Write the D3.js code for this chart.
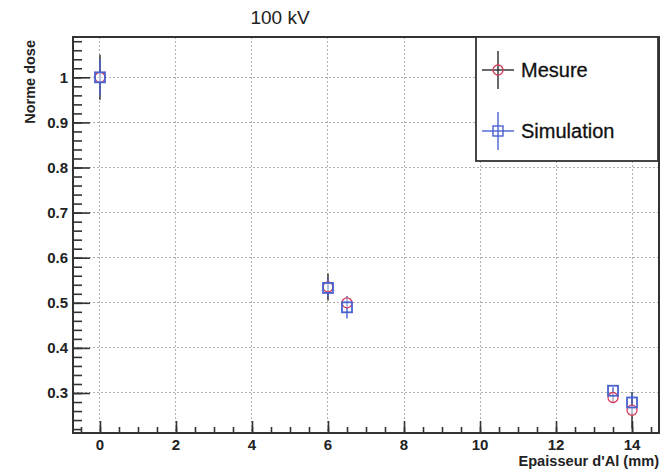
<!DOCTYPE html>
<html>
<head>
<meta charset="utf-8">
<script src="https://cdn.jsdelivr.net/npm/d3@7"></script>
<style>
  html, body { margin: 0; padding: 0; background: #fff; }
  svg { display: block; font-family: "Liberation Sans", Arial, Helvetica, sans-serif; }
</style>
</head>
<body>
<svg id="chart" width="666" height="473"></svg>
<script>
// Aluminium thickness (mm) for each measurement
const thickness = [0, 6, 6.5, 13.5, 14];
// Normalised dose, measured
const mesure = [1.0, 0.535, 0.50, 0.29, 0.262];
const mesureErr = [0.05, 0.03, 0.012, 0.012, 0.04];
// Normalised dose, simulated
const simulation = [1.0, 0.533, 0.49, 0.305, 0.279];
const simulationErr = [0.04, 0.02, 0.025, 0.008, 0.02];

const xTicks = [0, 2, 4, 6, 8, 10, 12, 14];
const yTicks = [0.3, 0.4, 0.5, 0.6, 0.7, 0.8, 0.9, 1];
const seriesNames = ["Mesure", "Simulation"];

const svg = d3.select("#chart");
const frame = { left: 73, right: 659, top: 37, bottom: 433 };

const x = d3.scaleLinear().domain([-0.71, 14.71]).range([frame.left, frame.right]);
const y = d3.scaleLinear().domain([0.2113, 1.0894]).range([frame.bottom, frame.top]);

const colMesure = "#d8395a", colMesureBar = "#2a2a2a";
const colSim = "#4a62d0";

// Grid
const grid = svg.append("g").attr("stroke", "#b0b0b0").attr("stroke-width", 1)
  .attr("stroke-dasharray", "2,2").attr("shape-rendering", "crispEdges");
grid.selectAll("line.gx").data(xTicks).join("line").attr("class", "gx")
  .attr("x1", d => x(d)).attr("x2", d => x(d)).attr("y1", frame.top).attr("y2", frame.bottom);
grid.selectAll("line.gy").data(yTicks).join("line").attr("class", "gy")
  .attr("y1", d => y(d)).attr("y2", d => y(d)).attr("x1", frame.left).attr("x2", frame.right);

// Axes with inner ticks
const yMinor = d3.range(0.22, 1.09, 0.02).map(v => +v.toFixed(2));
const xMinor = d3.range(-0.5, 14.71, 0.5);

const yAxisMinor = d3.axisRight(y).tickValues(yMinor).tickSize(9).tickFormat("");
const yAxisMajor = d3.axisRight(y).tickValues(yTicks).tickSize(17).tickFormat("");
const xAxisMinor = d3.axisTop(x).tickValues(xMinor).tickSize(6).tickFormat("");
const xAxisMajor = d3.axisTop(x).tickValues(xTicks).tickSize(12).tickFormat("");

function styleAxis(g) {
  g.select(".domain").remove();
  g.selectAll(".tick line").attr("stroke", "#333").attr("stroke-width", 1.6);
}
svg.append("g").attr("transform", `translate(${frame.left},0)`).call(yAxisMinor).call(styleAxis);
svg.append("g").attr("transform", `translate(${frame.left},0)`).call(yAxisMajor).call(styleAxis);
svg.append("g").attr("transform", `translate(0,${frame.bottom})`).call(xAxisMinor).call(styleAxis);
svg.append("g").attr("transform", `translate(0,${frame.bottom})`).call(xAxisMajor).call(styleAxis);

// Tick labels
svg.append("g").selectAll("text").data(yTicks).join("text")
  .attr("x", 68).attr("y", d => y(d)).attr("dy", "0.36em")
  .attr("text-anchor", "end").attr("font-size", 15).attr("font-weight", "bold").attr("fill", "#222")
  .text(d => d3.format("~g")(d));
svg.append("g").selectAll("text").data(xTicks).join("text")
  .attr("x", d => x(d)).attr("y", 450)
  .attr("text-anchor", "middle").attr("font-size", 15).attr("font-weight", "bold").attr("fill", "#222")
  .text(d => d);

// Frame
svg.append("rect").attr("x", frame.left).attr("y", frame.top)
  .attr("width", frame.right - frame.left).attr("height", frame.bottom - frame.top)
  .attr("fill", "none").attr("stroke", "#333").attr("stroke-width", 2);

// Titles
svg.append("text").attr("x", 280).attr("y", 24).attr("text-anchor", "middle")
  .attr("font-size", 19).attr("fill", "#222").text("100 kV");
svg.append("text").attr("transform", "translate(35,40) rotate(-90)")
  .attr("text-anchor", "end").attr("font-size", 14.5).attr("font-weight", "bold").attr("fill", "#222")
  .text("Norme dose");
svg.append("text").attr("x", 659).attr("y", 466).attr("text-anchor", "end")
  .attr("font-size", 14.6).attr("font-weight", "bold").attr("fill", "#222")
  .text("Epaisseur d'Al (mm)");

// Data series
const mesurePts = thickness.map((t, i) => ({ t, v: mesure[i], e: mesureErr[i] }));
const simPts = thickness.map((t, i) => ({ t, v: simulation[i], e: simulationErr[i] }));

const data = svg.append("g");
data.append("g").selectAll("line").data(mesurePts).join("line")
  .attr("x1", d => x(d.t)).attr("x2", d => x(d.t))
  .attr("y1", d => y(d.v - d.e)).attr("y2", d => y(d.v + d.e))
  .attr("stroke", colMesureBar).attr("stroke-width", 1.4);
data.append("g").selectAll("line").data(simPts).join("line")
  .attr("x1", d => x(d.t)).attr("x2", d => x(d.t))
  .attr("y1", d => y(d.v - d.e)).attr("y2", d => y(d.v + d.e))
  .attr("stroke", colSim).attr("stroke-width", 1.4);
data.append("g").selectAll("circle").data(mesurePts).join("circle")
  .attr("cx", d => x(d.t)).attr("cy", d => y(d.v)).attr("r", 5)
  .attr("fill", "#fff").attr("fill-opacity", 0.6).attr("stroke", colMesure).attr("stroke-width", 1.3);
data.append("g").selectAll("rect").data(simPts).join("rect")
  .attr("x", d => x(d.t) - 5).attr("y", d => y(d.v) - 5).attr("width", 10).attr("height", 10)
  .attr("fill", "none").attr("stroke", colSim).attr("stroke-width", 1.8);

// Legend
const leg = svg.append("g");
leg.append("rect").attr("x", 476).attr("y", 37).attr("width", 182).attr("height", 124)
  .attr("fill", "#fff").attr("stroke", "#333").attr("stroke-width", 1.8);
const entries = [
  { name: seriesNames[0], cy: 70, line: colMesureBar, mark: "circle", col: colMesure },
  { name: seriesNames[1], cy: 131, line: colSim, mark: "square", col: colSim }
];
entries.forEach(e => {
  const g = leg.append("g");
  g.append("line").attr("x1", 482).attr("x2", 514).attr("y1", e.cy).attr("y2", e.cy)
    .attr("stroke", e.line).attr("stroke-width", 1.4);
  g.append("line").attr("x1", 498).attr("x2", 498).attr("y1", e.cy - 19).attr("y2", e.cy + 19)
    .attr("stroke", e.line).attr("stroke-width", 1.4);
  if (e.mark === "circle") {
    g.append("circle").attr("cx", 498).attr("cy", e.cy).attr("r", 5)
      .attr("fill", "none").attr("stroke", e.col).attr("stroke-width", 1.3);
  } else {
    g.append("rect").attr("x", 493).attr("y", e.cy - 5).attr("width", 10).attr("height", 10)
      .attr("fill", "none").attr("stroke", e.col).attr("stroke-width", 1.4);
  }
  g.append("text").attr("x", 521).attr("y", e.cy).attr("dy", "0.36em")
    .attr("font-size", 20).attr("fill", "#111").attr("stroke", "#111").attr("stroke-width", 0.3)
    .text(e.name);
});
</script>
</body>
</html>
